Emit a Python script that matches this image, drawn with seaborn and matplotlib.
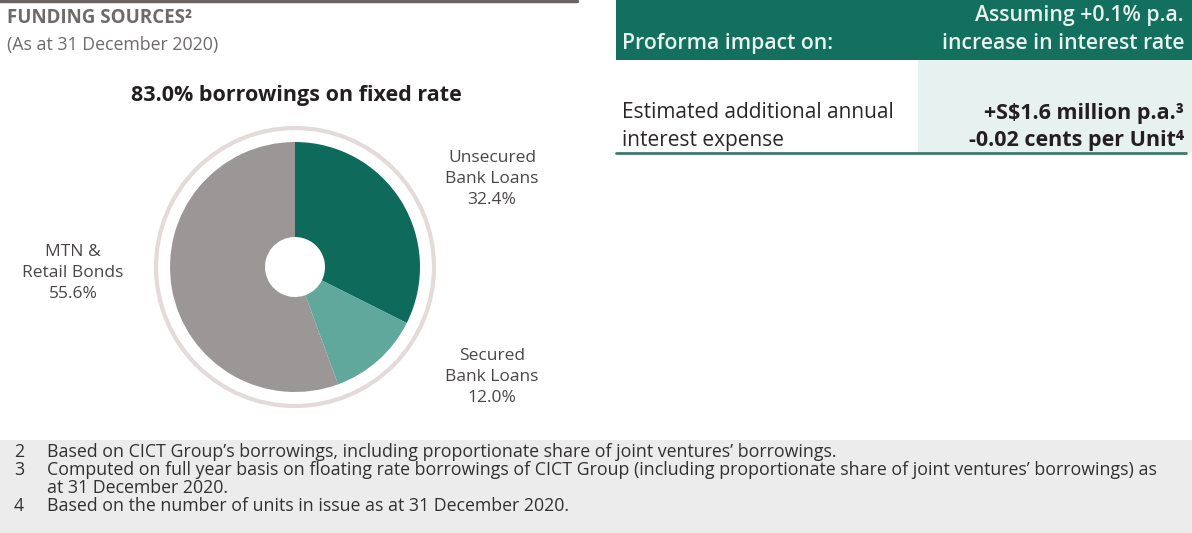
import seaborn as sns
import matplotlib.pyplot as plt
from matplotlib.patches import Rectangle, Circle

# funding sources (as at 31 Dec 2020)
sources = ['Unsecured\nBank Loans', 'Secured\nBank Loans', 'MTN &\nRetail Bonds']
shares = [32.4, 12.0, 55.6]
colors = ['#0e6b5c', '#5fa89b', '#9b9797']
label_pos = [(492, 179), (492, 377), (73, 273)]  # px from top-left

header_left = 'Proforma impact on:'
header_right = ['Assuming +0.1% p.a.', 'increase in interest rate']
row_left = ['Estimated additional annual', 'interest expense']
row_right = ['+S$1.6 million p.a.\u00b3', '-0.02 cents per Unit\u2074']

footnotes = [
    ('2', "Based on CICT Group\u2019s borrowings, including proportionate share of joint ventures\u2019 borrowings."),
    ('3', "Computed on full year basis on floating rate borrowings of CICT Group (including proportionate share of joint ventures\u2019 borrowings) as"),
    ('', "at 31 December 2020."),
    ('4', "Based on the number of units in issue as at 31 December 2020."),
]

sns.set_theme(style='white')
plt.rcParams['font.family'] = ['Open Sans', 'DejaVu Sans']

W, H = 1192, 533
fig = plt.figure(figsize=(W / 100, H / 100), dpi=100)
fig.patch.set_facecolor('white')


def fx(x):
    return x / W


def fy(y):
    return 1 - y / H


# background axes for boxes and rules
bg = fig.add_axes([0, 0, 1, 1])
bg.set_xlim(0, W)
bg.set_ylim(H, 0)
bg.axis('off')
bg.plot([0, 577], [1, 1], color='#6b6462', lw=2.5)
bg.add_patch(Rectangle((616, 0), W - 616, 60, color='#13705f', lw=0))
bg.add_patch(Rectangle((918, 60), W - 918, 93, color='#e7f1ef', lw=0))
bg.plot([616, 1186], [153, 153], color='#3f7a70', lw=2)
bg.add_patch(Rectangle((0, 440), W, H - 440, color='#ececec', lw=0))

# left heading
fig.text(fx(7), fy(18), 'FUNDING SOURCES\u00b2', fontsize=13.5, fontweight='bold',
         color='#6e6a69', va='center')
fig.text(fx(7), fy(45), '(As at 31 December 2020)', fontsize=12.8, color='#6e6a69',
         va='center')
fig.text(fx(296), fy(96), '83.0% borrowings on fixed rate', fontsize=15.5,
         fontweight='bold', color='#231f20', ha='center', va='center')

# donut
cx, cy, half = 295, 267, 150
ax = fig.add_axes([fx(cx - half), fy(cy + half), (2 * half) / W, (2 * half) / H])
ax.pie(shares, colors=colors, startangle=90, counterclock=False, radius=125,
       wedgeprops=dict(width=95, linewidth=0))
ax.add_patch(Circle((0, 0), 139, fill=False, ec='#e3dada', lw=3))
ax.set_xlim(-half, half)
ax.set_ylim(-half, half)
ax.set_aspect('equal')
ax.axis('off')

for name, val, (lx, ly) in zip(sources, shares, label_pos):
    fig.text(fx(lx), fy(ly), f'{name}\n{val:.1f}%', fontsize=12.5, color='#4a4646',
             ha='center', va='center', linespacing=1.4)

# table
fig.text(fx(622), fy(43), header_left, fontsize=15.3, color='#e8f2ef',
         fontweight='semibold', va='center')
for txt, y in zip(header_right, [15, 43]):
    fig.text(fx(1184), fy(y), txt, fontsize=15.3, color='#e8f2ef',
             fontweight='semibold', ha='right', va='center')
for txt, y in zip(row_left, [113, 140]):
    fig.text(fx(622), fy(y), txt, fontsize=15, color='#2b2727', va='center')
for txt, y in zip(row_right, [113, 140]):
    fig.text(fx(1184), fy(y), txt, fontsize=15.5, color='#231f20',
             fontweight='bold', ha='right', va='center')

# footnotes
for i, (num, txt) in enumerate(footnotes):
    y = 452 + i * 18
    if num:
        fig.text(fx(14), fy(y), num, fontsize=12.8, color='#333030', va='center')
    fig.text(fx(47), fy(y), txt, fontsize=12.8, color='#333030', va='center')

fig.savefig('out.png', dpi=100)
